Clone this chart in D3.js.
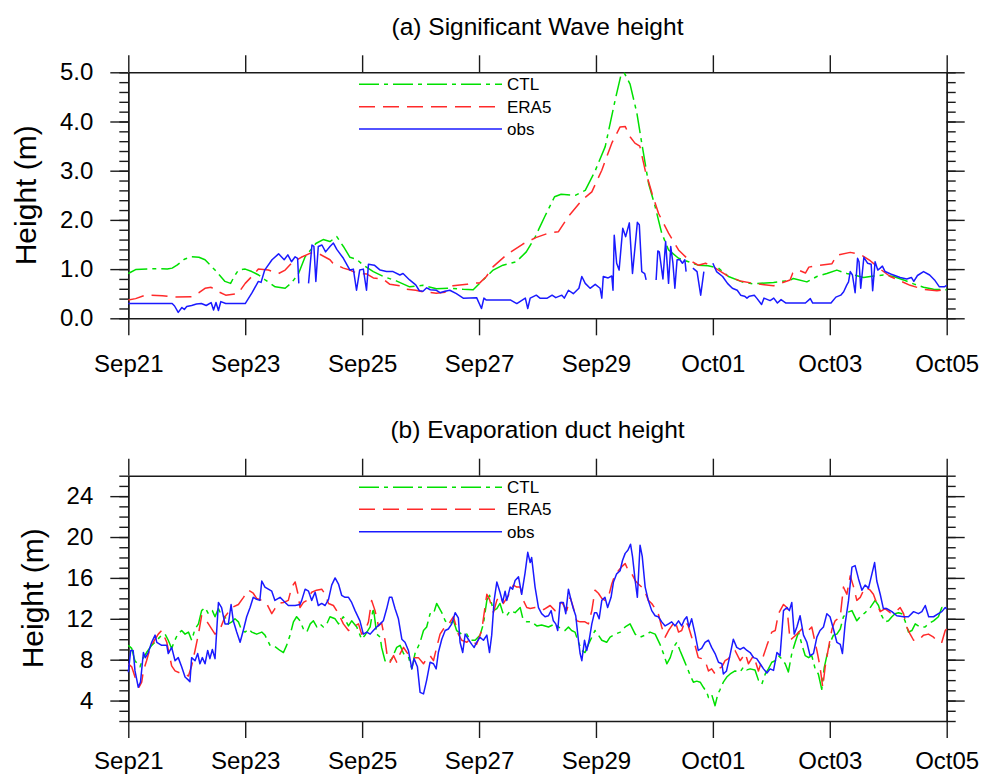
<!DOCTYPE html>
<html>
<head>
<meta charset="utf-8">
<script src="https://cdn.jsdelivr.net/npm/d3@7"></script>
<style>
  body { margin: 0; background: #fff; }
  svg text { font-family: "Liberation Sans", Arial, Helvetica, sans-serif; fill: #000; }
</style>
</head>
<body>
<svg id="chart" width="981" height="778"></svg>
<script>
// time axis: hours since Sep21 00:00, ticks every 2 days
var dayTickHours = [0, 48, 96, 144, 192, 240, 288, 336];
var dayTickLabels = ["Sep21", "Sep23", "Sep25", "Sep27", "Sep29", "Oct01", "Oct03", "Oct05"];

var seriesNames = ["CTL", "ERA5", "obs"];

// (a) significant wave height, [hour, metres]
var waveCtl = [[0,0.91],[3,0.99],[8,1.0],[12,1.01],[16,1.0],[18,1.02],[20,1.08],[23,1.2],[26,1.25],[29,1.24],[31.5,1.19],[35.6,0.98],[39.7,0.75],[42,0.71],[43.5,0.85],[45.2,0.98],[48,1.0],[50.7,0.95],[53.5,0.88],[56.2,0.78],[60.3,0.64],[64.4,0.61],[67,0.72],[69.9,0.91],[72.6,1.25],[77,1.52],[80,1.6],[82.8,1.56],[85.6,1.66],[88.3,1.46],[91,1.24],[93.7,1.2],[96.5,1.08],[100.6,0.95],[104.7,0.85],[110,0.76],[115.5,0.64],[121,0.67],[126.5,0.6],[132,0.61],[137.5,0.59],[141.6,0.58],[145.7,0.78],[149.8,0.98],[153.8,1.08],[159.3,1.15],[163.4,1.35],[167,1.65],[171,2.07],[175,2.47],[177.7,2.52],[183.5,2.5],[187.6,2.6],[191.7,3.0],[195.8,3.49],[199.9,4.44],[202.3,4.95],[203.7,4.98],[206,4.76],[208.8,4.17],[210.8,3.56],[213.6,2.74],[216.3,2.27],[219,1.73],[221.8,1.39],[225.9,1.22],[230,1.15],[234,1.08],[238,1.07],[242.3,1.02],[246.4,0.85],[252,0.74],[256.7,0.7],[264.9,0.73],[271.7,0.77],[273,0.81],[278.6,0.74],[282.7,0.85],[286.8,0.91],[290.9,0.98],[295,0.91],[297.8,0.88],[301.9,0.83],[306,0.86],[310,0.88],[314.2,0.85],[318.3,0.78],[322.4,0.7],[326.5,0.63],[330.6,0.59],[336,0.58]];
var waveEra = [[0,0.37],[3,0.4],[7,0.47],[14,0.46],[19,0.43],[26,0.44],[29,0.52],[31.5,0.61],[34,0.63],[37,0.54],[40,0.47],[45,0.5],[48,0.71],[50.7,0.85],[53.4,1.0],[57.5,0.98],[61.7,0.91],[64.4,0.98],[67,1.12],[71,1.24],[75,1.33],[78,1.32],[82.8,1.19],[84,1.12],[88.3,1.02],[91,0.98],[93.7,0.92],[98,0.9],[100.6,0.82],[104.6,0.8],[107.4,0.69],[111.6,0.66],[114.3,0.59],[118,0.57],[121,0.54],[126.5,0.51],[130,0.53],[133.3,0.66],[139,0.69],[140.2,0.71],[144.3,0.72],[147,0.85],[149.8,1.05],[155.3,1.29],[162,1.51],[167.3,1.64],[172.5,1.73],[176.6,1.76],[180.7,2.07],[186.2,2.4],[190.3,2.57],[194.4,3.01],[198.5,3.56],[201.9,3.89],[204,3.9],[206,3.69],[208,3.56],[210,3.5],[212.2,3.01],[215,2.54],[217.7,2.13],[221.8,1.73],[225.9,1.39],[230,1.19],[234,1.08],[237,1.12],[241,1.02],[246.4,0.85],[251.2,0.76],[256.7,0.71],[264.9,0.66],[271.7,0.78],[272.8,0.92],[275.2,0.98],[278,0.92],[279.4,1.04],[284,1.08],[288.9,1.11],[290.9,1.28],[296.4,1.34],[300.5,1.3],[304.6,1.17],[308.7,1.0],[312.8,0.85],[316.9,0.76],[321,0.67],[326.5,0.59],[332,0.56],[336,0.58]];
var waveObs = [[0,0.3],[18,0.3],[19,0.25],[20.5,0.12],[22,0.22],[23,0.18],[24,0.24],[26,0.26],[28,0.29],[30,0.3],[32,0.26],[34,0.32],[35,0.17],[36,0.32],[37,0.16],[38,0.34],[40,0.3],[48,0.3],[50.7,0.51],[53.4,0.75],[54.5,0.73],[56,0.98],[59,1.19],[61.7,1.31],[64,1.19],[65.5,1.29],[67,1.15],[68.5,1.25],[69.5,1.22],[70,0.71],[72,null],[74,0.71],[75.4,1.49],[76.2,1.46],[77,0.75],[78,1.46],[79.5,1.49],[81,1.35],[82.8,1.46],[84.2,1.53],[85.6,1.4],[88.3,1.22],[91,0.98],[92.4,1.0],[93.7,0.57],[95,0.98],[96.5,1.0],[97.8,0.57],[98.6,1.1],[101,1.08],[103.4,0.98],[106,0.95],[108.7,0.95],[111.5,0.88],[112.8,0.91],[115.5,0.78],[118,0.68],[119.5,0.56],[121,0.55],[122.5,0.62],[124,0.58],[126.5,0.57],[128,0.52],[130,0.55],[132,0.57],[134.7,0.5],[137.5,0.41],[143,0.42],[145,0.2],[146,0.41],[147,0.37],[154,0.37],[157,0.37],[159.5,0.3],[163,0.41],[164,0.2],[165,0.41],[167.5,0.47],[169,0.41],[172,0.41],[174,0.47],[175.5,0.42],[178,0.47],[179,0.41],[180.7,0.57],[182.7,0.5],[185,0.61],[186.2,0.85],[187.6,0.71],[189.6,0.61],[191.7,0.69],[193.7,0.61],[194.4,0.41],[195,0.85],[197,0.82],[198.5,0.86],[199,0.57],[199.5,1.69],[200.5,1.12],[201.5,0.98],[203,1.83],[204.2,1.66],[205.7,1.94],[207,0.91],[209,1.95],[209.8,1.9],[210.8,0.95],[212,0.91],[212.6,0.78],[214,null],[216.7,0.78],[217.4,1.37],[218,1.35],[219.5,0.8],[220.6,1.56],[221.8,0.71],[222.7,1.46],[223.6,1.12],[224.4,0.61],[225.3,1.19],[226.5,1.19],[227.5,1.12],[228.5,1.19],[229,0.95],[230,null],[231.8,1.02],[233.5,0.95],[235,0.47],[236.3,0.95],[238,null],[240,1.12],[241.5,0.95],[244,0.85],[246,0.71],[248,0.61],[250,0.57],[251.4,0.47],[253,0.45],[254,0.41],[255,0.45],[257,0.47],[258,0.41],[260,0.28],[261,0.41],[263.5,0.36],[265,0.41],[266.5,0.31],[268,0.38],[270,0.31],[278,0.31],[280,0.4],[281,0.31],[288.5,0.31],[290.5,0.43],[292.5,0.47],[293.7,0.54],[295,0.68],[295.7,0.74],[296.4,0.95],[297.3,0.88],[298.4,0.52],[299.4,1.22],[300,1.15],[300.7,0.61],[302,1.24],[303.5,1.12],[305,1.1],[305.6,0.56],[306.6,1.15],[307.7,0.98],[308.7,1.02],[309.6,1.06],[310.7,0.95],[313,0.9],[316.9,0.83],[319.6,0.8],[321.5,0.83],[322.5,0.75],[324,0.87],[326.5,0.95],[329,0.88],[331,0.78],[333,0.64],[335,0.64],[336,0.67]];

// (b) evaporation duct height, [hour, metres]
var ductCtl = [[0,9.4],[1.4,9.1],[2.7,7.9],[4.8,7.3],[6.2,8.2],[7.5,8.7],[9.6,9.4],[11.7,9.9],[13.7,10.4],[15.1,10.5],[16.4,9.9],[17.8,9.1],[18.9,9.8],[20.3,10.5],[21.9,10.85],[23.3,10.5],[24.7,10.7],[26,9.9],[27.4,11.0],[28.8,11.5],[30.1,12.8],[31.5,13.1],[32.9,12.5],[34.5,12.8],[35.6,12.2],[37,13.0],[38.3,12.3],[39.7,12.2],[41.1,11.5],[42.5,11.7],[43.8,12.0],[45.2,11.7],[46.6,10.85],[48,10.7],[49.3,11.0],[50.7,10.7],[52.7,10.5],[54.8,10.7],[56.1,10.4],[58.2,9.4],[59.6,9.4],[62.3,8.9],[63.7,8.7],[65,9.4],[66.4,10.4],[67.8,11.7],[69.1,12.2],[70.5,11.8],[71.9,11.0],[73.3,10.7],[74.7,11.5],[76,11.8],[77.4,11.2],[78.7,11.5],[80.1,11.2],[81.5,11.5],[82.8,12.2],[84.9,12.0],[86.3,11.5],[88.3,12.2],[90.4,11.3],[91.7,11.8],[93.8,11.2],[95.8,10.0],[97.2,10.4],[99.3,11.2],[100.6,13.1],[102,10.5],[103.4,10.2],[104,9.2],[105.4,7.9],[106.8,7.75],[108.2,8.1],[110.2,9.2],[111.6,9.4],[113,8.6],[115,8.3],[116.4,7.1],[117.7,8.6],[119.8,9.7],[121.2,10.85],[122.5,11.2],[123.9,12.5],[125.3,12.5],[126.6,13.5],[128.7,12.6],[130.1,11.8],[132.1,11.5],[133.5,11.8],[134.8,10.85],[136.9,10.5],[139,10.5],[140.3,9.9],[142.4,9.9],[144.4,10.4],[145.8,11.5],[147.2,13.8],[148.3,14.3],[149.9,12.8],[151.3,13.0],[152.6,13.5],[153.9,12.5],[155.4,12.3],[156.8,12.8],[158.8,12.6],[160.9,13.1],[162,12.0],[163.6,11.7],[165.6,11.7],[167.7,11.3],[169.7,11.4],[172.5,11.2],[175.2,11.5],[176.6,11.2],[178,11.0],[179.3,10.85],[180.7,11.2],[182,10.85],[183.4,10.7],[184.8,9.7],[186.2,8.9],[187.5,8.7],[188.9,9.5],[190.3,10.2],[191.6,10.85],[193,10.4],[194.4,9.9],[196.4,9.7],[197.8,10.2],[199.9,10.5],[202,10.7],[204,11.2],[206,11.5],[208.1,10.5],[210.1,10.2],[212.2,10.4],[214.2,10.7],[216.3,10.5],[218.3,9.5],[219.7,8.6],[221.1,7.6],[222.5,8.2],[223.8,9.2],[225.2,9.7],[226.5,8.9],[227.9,8.1],[229.3,7.3],[230.7,6.45],[232,5.8],[233.4,5.9],[234.8,5.8],[236.1,5.3],[237.5,4.8],[238.2,4.3],[239.5,4.6],[240.9,3.5],[242,4.6],[243,5.1],[244.3,5.8],[245.7,6.3],[247.1,6.6],[249.1,6.9],[251.2,6.8],[252.6,7.3],[254,7.0],[255.3,7.1],[257.3,7.0],[258.7,6.0],[260.1,5.6],[261.5,6.6],[262.8,7.1],[264.2,7.75],[265.6,7.9],[266.9,8.4],[268.2,8.1],[269.7,7.6],[271,6.8],[272.4,8.6],[273.8,9.7],[275.2,10.7],[276.5,9.5],[277.9,8.4],[279.3,8.2],[280.6,8.4],[282,7.1],[283.3,6.6],[284.7,5.1],[285.7,7.2],[286.8,8.4],[288.2,9.7],[289.5,10.4],[290.9,10.5],[292.3,11.0],[293.6,12.2],[295,12.6],[297.1,12.8],[299.1,11.8],[300.5,12.2],[302.5,12.6],[304.6,13.1],[306.6,13.8],[308,13.3],[309.3,12.3],[310.7,11.7],[312.1,11.8],[313.5,12.2],[314.8,12.5],[316.2,12.6],[317.6,12.5],[318.9,11.8],[320.3,10.7],[321.7,10.85],[323.1,11.5],[325.1,11.2],[327.1,11.2],[328.5,11.5],[330.6,11.8],[332.6,12.2],[334,13.1],[336,13.1]];
var ductEra = [[0,7.6],[1.4,7.3],[2.75,6.3],[4.4,5.3],[5.5,5.8],[6.2,6.9],[7.5,7.9],[8.9,9.1],[11,10.0],[12.3,10.5],[13.7,10.85],[15.8,9.7],[17.8,7.4],[19.2,6.9],[21.2,6.7],[23.3,6.6],[24.7,6.4],[26,7.4],[27.4,8.9],[28.8,10.5],[30.1,12.3],[31.5,12.0],[32.9,11.5],[35.6,10.5],[37.7,11.0],[39.7,12.2],[42.5,13.1],[45.2,13.4],[47.3,14.1],[49.3,14.8],[51.3,14.5],[52.7,14.0],[54.8,13.8],[56.8,13.5],[58.9,12.5],[60.2,13.0],[61.6,13.5],[63.7,13.6],[65.7,13.8],[67.1,15.1],[68.5,15.6],[69.6,14.5],[70.5,13.1],[71.9,13.6],[73.3,13.8],[75.3,14.6],[77.3,14.8],[79.4,14.9],[80.8,14.4],[82.2,13.5],[84.2,13.3],[86.3,12.5],[88.3,11.5],[90.4,10.85],[92.4,11.2],[94.5,11.5],[95.8,10.5],[97.2,10.85],[98.6,11.7],[99.9,13.8],[101.3,12.8],[102.7,11.3],[104,11.6],[105.4,9.9],[106.4,8.2],[107.5,7.75],[108.9,8.4],[110.2,7.75],[111.6,8.6],[113,9.2],[114.4,8.7],[116.4,8.1],[117.7,8.2],[119.1,8.2],[121.2,7.6],[122.5,8.1],[123.9,8.4],[125.3,7.9],[126.6,9.2],[128,10.5],[129.4,11.0],[130.8,11.2],[132.1,11.7],[133.5,12.2],[135.5,10.5],[136.9,9.9],[139,9.7],[140.3,10.0],[143,9.5],[145.1,10.85],[147.2,14.4],[148.3,13.9],[149.9,12.6],[151.3,13.8],[152.6,14.3],[154,13.5],[156.1,14.3],[158.1,15.3],[159.5,15.1],[160.9,15.1],[162.2,13.8],[163.6,13.1],[165,13.0],[167,13.1],[169,13.1],[170.5,12.9],[173.2,13.3],[175.2,12.8],[176.6,13.4],[178,13.6],[180,12.8],[181.4,14.1],[182.7,13.1],[184.1,11.8],[185.5,11.7],[187.5,11.7],[188.9,11.5],[190.3,12.8],[191.6,14.8],[193,14.5],[194.4,14.0],[195.7,13.8],[197.1,14.1],[198.5,15.4],[199.9,16.4],[201.2,16.7],[202.6,17.1],[204,17.4],[205.3,16.7],[206.7,16.4],[208.1,15.75],[209.4,15.4],[210.8,15.1],[212.2,14.6],[213.5,13.8],[214.9,13.5],[216.3,13.0],[217.6,12.5],[219,11.2],[220.4,10.2],[221.8,10.85],[223.1,11.3],[224.5,11.8],[225.9,10.7],[227.2,10.85],[228.6,11.8],[229.9,11.3],[231.3,10.2],[232.7,9.4],[234,8.2],[235.4,8.1],[236.8,7.9],[238.2,6.9],[239.5,7.1],[240.9,6.6],[242.3,7.1],[243.7,7.3],[245,7.9],[246.4,8.1],[247.8,8.6],[249.1,8.9],[251.2,7.9],[253.3,8.6],[254.6,7.6],[256.7,8.4],[258.7,6.9],[260.8,8.4],[262.2,9.4],[264.2,10.7],[265.6,10.85],[266.9,12.5],[269,13.4],[270.4,13.1],[271.7,9.9],[273.1,10.2],[274.5,10.5],[276.5,11.0],[278.6,10.7],[280.6,11.2],[282.7,8.9],[284,7.3],[285.1,5.3],[286.1,7.3],[287.5,9.2],[288.9,11.0],[290.2,11.8],[292.3,12.2],[293.6,15.1],[295,14.4],[296.4,16.2],[297.8,15.1],[299.1,13.8],[300.5,14.1],[302.5,15.1],[304.6,14.8],[305.9,14.4],[307.3,13.5],[308.7,12.7],[310.7,13.0],[312.8,12.6],[314.8,12.6],[316.9,13.1],[318.3,12.5],[319.6,11.2],[321,10.5],[322.4,9.9],[324.4,9.9],[326.5,10.4],[328.5,10.5],[330.6,10.2],[332.6,9.7],[334,9.7],[335.4,10.85],[336,11.0]];
var ductObs = [[0,6.77],[1,8.9],[2,8.9],[2.75,6.9],[4.1,5.3],[5,5.8],[6.2,8.7],[7,8.2],[8.2,8.7],[9.6,9.7],[11,10.4],[11.7,9.7],[13.7,9.4],[15.8,9.4],[16.4,8.6],[17.8,9.2],[19.2,7.9],[20.5,8.2],[21.9,7.3],[23.3,6.3],[24.7,6.0],[25.3,5.85],[26,8.2],[27.4,7.9],[28.5,8.6],[29.4,7.6],[30.4,8.2],[31.5,7.6],[32.6,8.9],[33.5,8.1],[34.5,9.0],[35.6,8.1],[37,13.6],[38.3,13.1],[39.7,11.5],[41.1,11.5],[42.2,13.4],[43.1,11.8],[44.5,10.7],[45.9,9.7],[47.2,10.85],[48.6,12.2],[50,13.1],[51.3,14.1],[52.7,13.9],[54,13.8],[54.8,15.7],[56.1,15.1],[57.5,14.9],[58.9,14.7],[60.2,13.8],[62.3,14.1],[64.4,13.6],[65.7,13.3],[68.5,13.3],[70.5,13.4],[71.2,13.8],[72.6,14.9],[74,14.7],[75.3,13.8],[76.7,14.6],[78,13.3],[79.4,13.5],[80.8,13.3],[82.2,13.9],[83.5,15.3],[84.9,16.0],[86.3,15.4],[87.6,14.3],[89,14.1],[90.4,14.1],[91.7,13.6],[93.1,12.8],[95.1,11.8],[96.5,10.5],[97.9,10.7],[99.3,10.5],[100.6,10.85],[102,11.2],[103.4,11.5],[104.7,11.8],[106.1,13.0],[107.2,14.1],[108.2,14.1],[109.5,13.0],[110.9,12.0],[112.3,10.0],[113.6,9.7],[115,8.9],[116.4,7.1],[117.3,8.1],[118.7,7.3],[119.8,4.8],[121.2,4.65],[122.5,6.0],[123.9,7.75],[125.3,7.6],[126.4,7.1],[127.3,8.7],[128.7,10.0],[130.1,10.85],[131.4,11.0],[132.8,11.5],[134.2,12.6],[135.5,12.1],[136.2,9.7],[137.3,8.7],[138.3,10.5],[139.6,10.0],[141,9.5],[142,9.2],[143,9.7],[144.4,10.2],[145.8,9.9],[147.2,10.4],[148.3,8.7],[149.2,10.4],[150.2,13.8],[151.3,15.6],[152.6,14.6],[153.7,13.6],[154.7,14.7],[155.4,13.8],[156.8,15.1],[157.8,14.9],[158.8,15.75],[160.2,16.1],[161.5,14.4],[162.9,16.5],[164,18.5],[165,17.5],[165.6,18.0],[167,15.1],[168.4,13.1],[169.7,12.5],[171.1,12.2],[172.5,12.3],[173.6,12.8],[174.5,11.8],[175.5,11.5],[176.3,10.85],[177.3,13.6],[178.6,13.6],[179.6,12.5],[180.7,14.9],[181.8,13.8],[182.7,13.0],[183.7,12.3],[184.8,9.9],[185.5,8.6],[186.2,7.9],[187.3,9.9],[188.2,8.9],[189.2,9.9],[190.3,11.5],[191.4,12.6],[192.3,12.6],[193.3,12.0],[194.4,13.8],[195.7,14.1],[196.8,13.1],[198.2,14.1],[199.2,15.6],[200.5,16.4],[201.9,16.7],[202.9,17.7],[204,18.4],[205.1,18.7],[206.2,19.3],[207,18.1],[208.1,15.75],[209,14.1],[210.1,19.2],[211,18.1],[212.2,15.1],[213.5,13.8],[214.9,12.8],[216.3,12.3],[217.6,12.2],[219,11.7],[220.4,11.3],[221.8,11.5],[223.1,11.7],[224.5,11.3],[225.9,11.8],[227.2,11.3],[228.3,11.9],[229.3,12.2],[230.2,11.2],[231.3,12.0],[232.7,10.5],[234,8.9],[235.4,9.1],[236.8,9.7],[238.2,9.9],[239.5,9.2],[240.9,8.6],[242.3,7.75],[243.7,7.6],[244.3,6.6],[245.6,6.9],[247,8.4],[248.4,10.0],[249.8,9.2],[251.2,9.0],[252.6,9.2],[254,8.9],[255.3,8.7],[256.7,8.2],[258,8.1],[259.4,7.6],[260.8,7.1],[262.2,6.7],[263.5,7.1],[264.9,6.95],[266.3,8.7],[267.6,8.4],[269,12.8],[270.4,13.1],[271.4,12.8],[272.4,13.6],[273.4,10.5],[274.5,11.2],[275.8,12.3],[277.2,10.4],[278.6,9.7],[279.9,8.4],[281.3,8.6],[282.7,10.2],[284,10.85],[285.4,11.2],[286.8,12.5],[288.1,12.2],[289.5,11.0],[290.9,9.7],[292.3,9.5],[293.2,8.6],[294.3,11.5],[295.7,13.8],[297.1,17.05],[298.4,17.2],[299.8,15.9],[301.2,14.8],[302.5,15.3],[303.9,15.0],[305.3,16.4],[306.4,17.5],[307.3,15.7],[308.7,14.4],[310,13.0],[311.4,13.0],[313.5,12.7],[315.5,12.3],[318.3,12.2],[320.3,12.2],[322.4,12.7],[324.4,12.5],[325.8,12.7],[327.2,13.3],[328.6,12.2],[330.6,12.2],[332.6,12.5],[334,12.7],[335.4,13.1],[336,12.95]];

var waveTicks = [0, 1, 2, 3, 4, 5];
var ductTicks = [4, 8, 12, 16, 20, 24];

var colors = { CTL: "#00e000", ERA5: "#ff2a2a", obs: "#1a1aff" };
var dashes = { CTL: "20,5,4,5", ERA5: "16,8", obs: null };

var svg = d3.select("#chart");
var x = d3.scaleLinear().domain([0, 336]).range([128.3, 946.7]);
var axisColor = "#1a1a1a";

function drawPanel(p) {
  var g = svg.append("g").attr("class", "panel");
  var y = d3.scaleLinear().domain(p.yDomain).range([p.bottom, p.top]);

  // minor y ticks first, majors over them
  var minor = d3.range(p.yDomain[0], p.yDomain[1] + p.minorStep / 2, p.minorStep);
  g.append("g")
    .attr("transform", "translate(" + x.range()[0] + ",0)")
    .call(d3.axisLeft(y).tickValues(minor).tickSize(9).tickSizeOuter(0).tickFormat(""));
  g.append("g")
    .attr("transform", "translate(" + x.range()[1] + ",0)")
    .call(d3.axisRight(y).tickValues(minor).tickSize(9).tickSizeOuter(0).tickFormat(""));

  var left = g.append("g")
    .attr("transform", "translate(" + x.range()[0] + ",0)")
    .call(d3.axisLeft(y).tickValues(p.yTicks).tickSize(18).tickSizeOuter(0).tickPadding(17)
      .tickFormat(p.yFormat));
  left.selectAll("text").style("font-size", "24px");
  g.append("g")
    .attr("transform", "translate(" + x.range()[1] + ",0)")
    .call(d3.axisRight(y).tickValues(p.yTicks).tickSize(18).tickSizeOuter(0).tickFormat(""));

  var bottom = g.append("g")
    .attr("transform", "translate(0," + p.bottom + ")")
    .call(d3.axisBottom(x).tickValues(dayTickHours).tickSize(17).tickSizeOuter(0).tickPadding(p.xPad)
      .tickFormat(function(d, i) { return dayTickLabels[i]; }));
  bottom.selectAll("text").style("font-size", "24px");
  g.append("g")
    .attr("transform", "translate(0," + p.top + ")")
    .call(d3.axisTop(x).tickValues(dayTickHours).tickSize(17).tickSizeOuter(0).tickFormat(""));

  g.selectAll(".domain, .tick line").attr("stroke", axisColor).attr("stroke-width", 1.4);

  // data lines, obs drawn last
  var line = d3.line()
    .defined(function(d) { return d[1] != null; })
    .x(function(d) { return x(d[0]); })
    .y(function(d) { return y(d[1]); });
  seriesNames.forEach(function(name, i) {
    g.append("path")
      .datum(p.series[i])
      .attr("fill", "none")
      .attr("stroke", colors[name])
      .attr("stroke-width", 1.5)
      .attr("stroke-dasharray", dashes[name])
      .attr("stroke-linejoin", "round")
      .attr("d", line);
  });

  // legend, no box
  seriesNames.forEach(function(name, i) {
    var ly = p.legendY[i];
    g.append("line")
      .attr("x1", 359).attr("x2", 502).attr("y1", ly).attr("y2", ly)
      .attr("stroke", colors[name]).attr("stroke-width", 1.5)
      .attr("stroke-dasharray", dashes[name]);
    g.append("text")
      .attr("x", 507).attr("y", ly).attr("dy", "0.36em")
      .style("font-size", "17px")
      .text(name);
  });

  // titles
  g.append("text")
    .attr("x", (x.range()[0] + x.range()[1]) / 2).attr("y", p.titleY)
    .attr("text-anchor", "middle")
    .style("font-size", "24.5px")
    .text(p.title);
  g.append("text")
    .attr("transform", "translate(" + p.yTitleX + "," + (p.top + p.bottom) / 2 + ") rotate(-90)")
    .attr("text-anchor", "middle")
    .style("font-size", "30px")
    .text("Height (m)");
}

drawPanel({
  title: "(a) Significant Wave height",
  top: 72.3, bottom: 318.3, titleY: 35, yTitleX: 36, xPad: 20,
  yDomain: [0, 5], yTicks: waveTicks, minorStep: 0.2, yFormat: d3.format(".1f"),
  series: [waveCtl, waveEra, waveObs],
  legendY: [84.3, 106.7, 129]
});

drawPanel({
  title: "(b) Evaporation duct height",
  top: 475.7, bottom: 721, titleY: 437.5, yTitleX: 43, xPad: 14,
  yDomain: [2, 26], yTicks: ductTicks, minorStep: 1, yFormat: d3.format("d"),
  series: [ductCtl, ductEra, ductObs],
  legendY: [487.3, 509.3, 531.7]
});
</script>
</body>
</html>
